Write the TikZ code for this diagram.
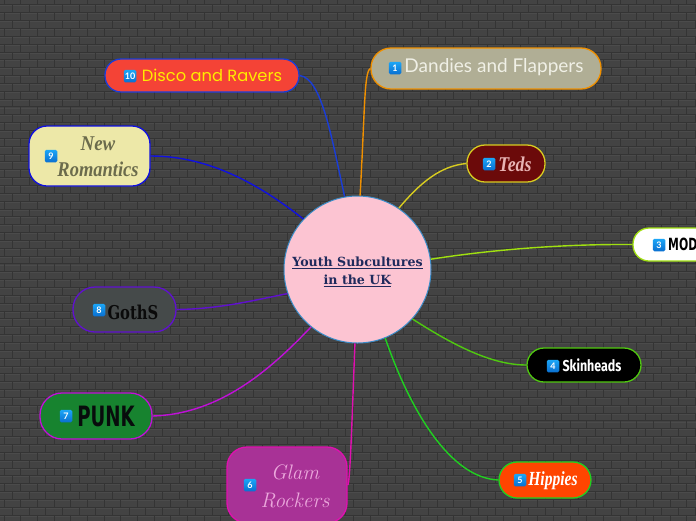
\documentclass[tikz,border=0pt]{standalone}
\usepackage{graphicx}
\usepackage{fontspec}
\setmainfont{Liberation Serif}
\newfontfamily\fPop{Poppins}
\newfontfamily\fLato{Lato}
\newfontfamily\fFira{Fira Sans}
\newfontfamily\fDeja{DejaVu Sans}
\newfontfamily\fDSerif{DejaVu Serif}
\newfontfamily\fLM{Latin Modern Roman}
\newcommand{\fsz}[1]{\fontsize{#1}{#1}\selectfont}
\definecolor{bgbase}{HTML}{434343}
\definecolor{bgdark}{HTML}{343434}
\definecolor{bglight}{HTML}{4B4B4B}
\definecolor{cfill}{HTML}{FCC4D2}
\definecolor{cline}{HTML}{3A8CC8}
\definecolor{ctext}{HTML}{1F2A5C}
\definecolor{lDandies}{HTML}{F09000}
\definecolor{lTeds}{HTML}{D8CC20}
\definecolor{lMods}{HTML}{A0E010}
\definecolor{lSkin}{HTML}{50C810}
\definecolor{lHip}{HTML}{20D020}
\definecolor{lGlam}{HTML}{E010B0}
\definecolor{lPunk}{HTML}{C010D8}
\definecolor{lGoth}{HTML}{6010D0}
\definecolor{lNew}{HTML}{1010E0}
\definecolor{lDisco}{HTML}{1A3DD8}
\definecolor{fDandies}{HTML}{B0AE95}
\definecolor{tDandies}{HTML}{F0F0E6}
\definecolor{fTeds}{HTML}{6B0A0A}
\definecolor{tTeds}{HTML}{E8B4B4}
\definecolor{fHip}{HTML}{FF4500}
\definecolor{fGlam}{HTML}{A83296}
\definecolor{tGlam}{HTML}{EBA8DC}
\definecolor{fPunk}{HTML}{17832F}
\definecolor{tPunk}{HTML}{080C0C}
\definecolor{fGoth}{HTML}{454A4A}
\definecolor{tGoth}{HTML}{0A0A0A}
\definecolor{fNew}{HTML}{EDE8A8}
\definecolor{tNew}{HTML}{6B6B4C}
\definecolor{fDisco}{HTML}{F44336}
\definecolor{tDisco}{HTML}{FFEB00}
\definecolor{badgetop}{HTML}{1BA6F7}
\definecolor{badgebot}{HTML}{0A6FD0}
\tikzset{
  box/.style={draw,line width=1.3pt,inner sep=0pt,rectangle},
  lab/.style={inner sep=0pt,align=center},
  badge/.style={rounded corners=1.5pt,top color=badgetop,bottom color=badgebot,text=white,
    font=\fLato\bfseries\fsz{9},minimum size=12.5pt,inner sep=0pt},
  link/.style={line width=1.4pt},
}
\begin{document}
\begin{tikzpicture}[x=1pt,y=-1pt]
\useasboundingbox (0,0) rectangle (696,520);
\fill[bgbase] (-4,-4) rectangle (700,524);
% brick wall
\foreach \r in {-1,...,66}{
  \pgfmathsetmacro{\yy}{4.7+7.85*\r}
  \pgfmathsetmacro{\off}{4+mod(\r+1,2)*8.3}
  \draw[bgdark,line width=.6pt] (-4,\yy) -- (700,\yy);
  \draw[bglight,line width=.5pt] (-4,\yy+1) -- (700,\yy+1);
  \foreach \c in {0,...,42}{
    \draw[bgdark,line width=.6pt] (\off+16.65*\c,\yy) -- (\off+16.65*\c,\yy+7.85);
  }
}
% central topic
\node[circle,draw=cline,fill=cfill,line width=1pt,minimum size=147pt,inner sep=0pt,text=ctext,
  font=\fDSerif\bfseries\fsz{12.6},align=center] (c) at (357.5,269.5)
  {\rule{0pt}{14pt}\underline{Youth Subcultures}\\[5.5pt]\underline{in the UK}};
% topic boxes
\node[box,draw=lDandies,fill=fDandies,rounded corners=20pt,minimum width=230pt,minimum height=41pt] (n1) at (486,68.5) {};
\node[box,draw=lTeds,fill=fTeds,rounded corners=18pt,minimum width=78pt,minimum height=37pt] (n2) at (506,163.5) {};
\node[box,draw=lMods,fill=white,rounded corners=16pt,minimum width=120pt,minimum height=33pt] (n3) at (693,244.5) {};
\node[box,draw=lSkin,fill=black,rounded corners=17pt,minimum width=114pt,minimum height=34pt] (n4) at (584,365) {};
\node[box,draw=lHip,fill=fHip,rounded corners=18pt,minimum width=92pt,minimum height=36pt] (n5) at (545,480) {};
\node[box,draw=lGlam,fill=fGlam,rounded corners=20pt,minimum width=120pt,minimum height=76pt] (n6) at (287,485) {};
\node[box,draw=lPunk,fill=fPunk,rounded corners=22pt,minimum width=112pt,minimum height=46pt] (n7) at (96,416) {};
\node[box,draw=lGoth,fill=fGoth,rounded corners=22pt,minimum width=103pt,minimum height=45pt] (n8) at (124.5,309.5) {};
\node[box,draw=lNew,fill=fNew,rounded corners=18pt,minimum width=121pt,minimum height=60pt] (n9) at (89.5,156) {};
\node[box,draw=lDisco,fill=fDisco,rounded corners=16pt,minimum width=194pt,minimum height=33pt] (n10) at (202,75.5) {};
% connectors
\draw[link,draw=lDandies] (n1.west) .. controls (364,72) and (365,110) .. (c.88);
\draw[link,draw=lTeds] (n2.west) .. controls (440,166) and (420,183) .. (c.56);
\draw[link,draw=lMods] (n3.west) .. controls (560,244) and (490,250) .. (c.8);
\draw[link,draw=lSkin] (n4.west) .. controls (490,365) and (450,343) .. (c.-42);
\draw[link,draw=lHip] (n5.west) .. controls (450,478) and (410,410) .. (c.-68);
\draw[link,draw=lGlam] (n6.east) .. controls (350,485) and (352,420) .. (c.-92);
\draw[link,draw=lPunk] (n7.east) .. controls (220,414) and (270,370) .. (c.231);
\draw[link,draw=lGoth] (n8.east) .. controls (220,309) and (255,300) .. (c.199);
\draw[link,draw=lNew] (n9.east) .. controls (210,156) and (260,185) .. (c.137);
\draw[link,draw=lDisco] (n10.east) .. controls (322,78) and (332,140) .. (c.100);
% badges
\node[badge] (b1) at (395,68) {1};
\node[badge] (b2) at (489,164) {2};
\node[badge] (b3) at (659,245) {3};
\node[badge] (b4) at (553,366) {4};
\node[badge] (b5) at (520,480) {5};
\node[badge] (b6) at (250,485) {6};
\node[badge] (b7) at (66,416) {7};
\node[badge] (b8) at (99,310) {8};
\node[badge] (b9) at (51,156) {9};
\node[badge] (b10) at (130,76) {10};
% labels
\node[lab,text=tDandies,font=\fLato\fsz{19}] (t1) at (494,67) {Dandies and Flappers};
\node[lab,text=tTeds,font=\bfseries\itshape\fsz{21}] (t2) at (515,164) {\scalebox{.85}[1]{Teds}};
\node[lab,text=black,font=\fDeja\bfseries\fsz{16},anchor=west] (t3) at (668,244) {\scalebox{.68}[1.05]{MODS}};
\node[lab,text=white,font=\fFira\bfseries\fsz{15}] (t4) at (592,365) {\scalebox{.83}[1.05]{Skinheads}};
\node[lab,text=white,font=\bfseries\itshape\fsz{20}] (t5) at (553,481) {\scalebox{.78}[1]{Hippies}};
\node[lab,text=tGlam,font=\fLM\itshape\fsz{21}] (t6) at (295,486) {Glam\\[7pt]Rockers};
\node[lab,text=tPunk,font=\fDeja\bfseries\fsz{28}] (t7) at (106,416.5) {\scalebox{.65}[1]{PUNK}};
\node[lab,text=tGoth,font=\fDSerif\bfseries\fsz{19}] (t8) at (133,312) {\scalebox{.78}[1]{GothS}};
\node[lab,text=tNew,font=\bfseries\itshape\fsz{21}] (t9) at (98,156.5) {\scalebox{.9}[1]{New}\\[5pt]\scalebox{.88}[1]{Romantics}};
\node[lab,text=tDisco,font=\fPop\fsz{16.3}] (t10) at (212,75) {Disco and Ravers};
\end{tikzpicture}
\end{document}
